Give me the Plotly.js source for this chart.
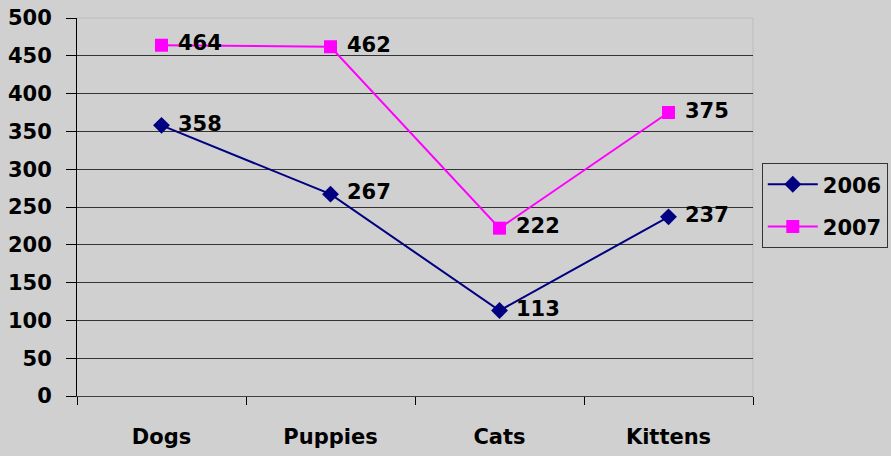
<!DOCTYPE html>
<html>
<head>
<meta charset="utf-8">
<script src="https://cdn.plot.ly/plotly-3.0.1.min.js"></script>
<style>html,body{margin:0;padding:0;background:#d0d0d0;}#chart{width:891px;height:456px;}</style>
</head>
<body>
<div id="chart"></div>
<script>
const categories = ["Dogs", "Puppies", "Cats", "Kittens"];
const values2006 = [358, 267, 113, 237];
const values2007 = [464, 462, 222, 375];
const seriesNames = ["2006", "2007"];
const yTicks = [0, 50, 100, 150, 200, 250, 300, 350, 400, 450, 500];

const FONT = "DejaVu Sans, sans-serif";
const FS = 21;
const lbl = v => "\u00a0" + String(v);
const traces = [
  {
    x: categories, y: values2006, name: seriesNames[0], type: "scatter", mode: "lines+markers+text",
    legendgroup: "a",
    line: {color: "#000080", width: 2},
    marker: {symbol: "diamond", size: 13, color: "#000080"},
    text: values2006.map(lbl), textposition: "middle right",
    textfont: {family: FONT, size: FS, color: "#000000", weight: "bold"},
    cliponaxis: false
  },
  {
    x: categories, y: values2007, name: seriesNames[1], type: "scatter", mode: "lines+markers+text",
    legendgroup: "b",
    line: {color: "#ff00ff", width: 2},
    marker: {symbol: "square", size: 13, color: "#ff00ff"},
    text: values2007.map(lbl), textposition: "middle right",
    textfont: {family: FONT, size: FS, color: "#000000", weight: "bold"},
    cliponaxis: false
  }
];

const layout = {
  width: 891, height: 456,
  paper_bgcolor: "#d0d0d0", plot_bgcolor: "#d0d0d0",
  margin: {l: 77, r: 138, t: 18, b: 60, pad: 0, autoexpand: false},
  font: {family: FONT, size: FS, color: "#000000", weight: "bold"},
  showlegend: true,
  legend: {
    x: 1.013, y: 0.616, xanchor: "left", yanchor: "top",
    bgcolor: "rgba(0,0,0,0)", bordercolor: "#333333", borderwidth: 1,
    font: {family: FONT, size: FS, color: "#000000", weight: "bold"},
    tracegroupgap: 12, itemwidth: 50
  },
  xaxis: {
    type: "category", range: [-0.5, 3.5], tickson: "boundaries", automargin: false,
    showgrid: false, showline: true, linecolor: "#404040", linewidth: 1,
    ticks: "outside", ticklen: 8, tickcolor: "#000000", tickwidth: 1,
    ticklabelstandoff: 22, zeroline: false,
    tickfont: {family: FONT, size: FS, color: "#000000", weight: "bold"}
  },
  yaxis: {
    range: [0, 500], tickvals: yTicks, ticktext: yTicks.map(String), automargin: false,
    showgrid: true, gridcolor: "#333333", gridwidth: 1,
    showline: true, linecolor: "#000000", linewidth: 1,
    ticks: "outside", ticklen: 10, tickcolor: "#000000", tickwidth: 1,
    ticklabelstandoff: 10, zeroline: false,
    tickfont: {family: FONT, size: FS, color: "#000000", weight: "bold"}
  },
  shapes: [
    {type: "line", xref: "paper", yref: "paper", x0: 0, x1: 1, y0: 1, y1: 1, line: {color: "#bdbdbd", width: 1}, layer: "above"},
    {type: "line", xref: "paper", yref: "paper", x0: 1, x1: 1, y0: 0, y1: 1, line: {color: "#bdbdbd", width: 1}, layer: "below"}
  ]
};

Plotly.newPlot("chart", traces, layout, {displayModeBar: false, staticPlot: true});
</script>
</body>
</html>
